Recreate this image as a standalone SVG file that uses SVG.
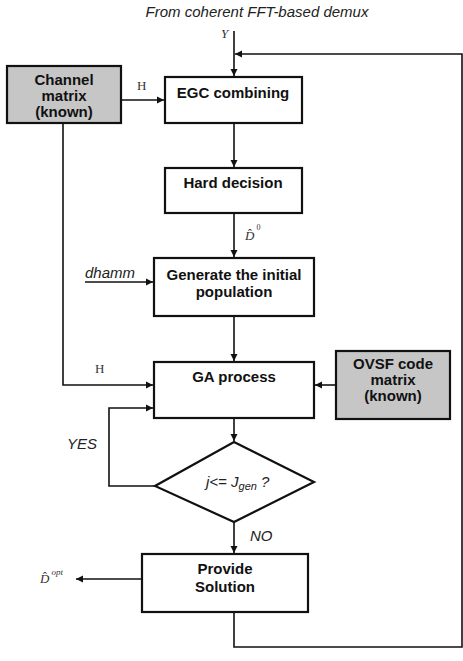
<svg xmlns="http://www.w3.org/2000/svg" width="463" height="661" viewBox="0 0 463 661">
<style>
.box{fill:#fff;stroke:#111;stroke-width:2.2}
.gray{fill:#c6c6c6;stroke:#111;stroke-width:2.2}
.t{font-family:"Liberation Sans",Arial,sans-serif;font-weight:bold;font-size:15px;fill:#111;text-anchor:middle}
.it{font-family:"Liberation Sans",Arial,sans-serif;font-style:italic;font-size:15px;fill:#222}
.m{font-family:"Liberation Serif","Times New Roman",serif;font-size:13px;fill:#333}
.c{fill:none;stroke:#111;stroke-width:1.6}
</style>
<defs>
<marker id="ah" markerWidth="8" markerHeight="8" refX="7" refY="4" orient="auto" markerUnits="userSpaceOnUse">
<path d="M0,0.5 L7,4 L0,7.5 Z" fill="#111"/>
</marker>
</defs>
<rect width="463" height="661" fill="#fff"/>
<text class="it" x="257" y="17" text-anchor="middle">From coherent FFT-based demux</text>

<g id="connectors">
<path class="c" d="M234,31 V76" marker-end="url(#ah)"/>
<path class="c" d="M234,612 V647 H462 V54 H235" marker-end="url(#ah)"/>
<path class="c" d="M234,123 V167" marker-end="url(#ah)"/>
<path class="c" d="M234,213 V257" marker-end="url(#ah)"/>
<path class="c" d="M85,282 H153" marker-end="url(#ah)"/>
<path class="c" d="M234,316 V361" marker-end="url(#ah)"/>
<path class="c" d="M121,100 H164" marker-end="url(#ah)"/>
<path class="c" d="M63,123 V385 H153" marker-end="url(#ah)"/>
<path class="c" d="M336,385 H315" marker-end="url(#ah)"/>
<path class="c" d="M234,418 V441" marker-end="url(#ah)"/>
<path class="c" d="M155,486 H109 V408 H153" marker-end="url(#ah)"/>
<path class="c" d="M234,522 V553" marker-end="url(#ah)"/>
<path class="c" d="M142,579 H76" marker-end="url(#ah)"/>
<text class="m" x="221" y="38" font-style="italic">Y</text>
<text class="m" x="137" y="90">H</text>
<text class="m" x="95" y="373">H</text>
<text class="it" x="85" y="278">dhamm</text>
<text class="it" x="67" y="449">YES</text>
<text class="it" x="250" y="541">NO</text>
<text class="m" x="245" y="240" font-size="15" font-style="italic">D&#x302;<tspan font-size="8" font-style="normal" dx="2" dy="-10">0</tspan></text>
<text class="m" x="40" y="583" font-size="15" font-style="italic">D&#x302;<tspan font-size="9" dx="2" dy="-8">opt</tspan></text>
</g>

<g id="channel">
<rect class="gray" x="7" y="66" width="114" height="57"/>
<text class="t" x="64" y="85">Channel</text>
<text class="t" x="64" y="101">matrix</text>
<text class="t" x="64" y="117">(known)</text>
</g>
<g id="egc">
<rect class="box" x="165" y="77" width="137" height="46"/>
<text class="t" x="233" y="98">EGC combining</text>
</g>
<g id="hard">
<rect class="box" x="165" y="168" width="137" height="45"/>
<text class="t" x="233" y="188">Hard decision</text>
</g>
<g id="generate">
<rect class="box" x="154" y="258" width="160" height="58"/>
<text class="t" x="234" y="280">Generate the initial</text>
<text class="t" x="234" y="297">population</text>
</g>
<g id="ga">
<rect class="box" x="154" y="362" width="160" height="56"/>
<text class="t" x="234" y="382">GA process</text>
</g>
<g id="ovsf">
<rect class="gray" x="336" y="351" width="114" height="68"/>
<text class="t" x="393" y="369">OVSF code</text>
<text class="t" x="393" y="385">matrix</text>
<text class="t" x="393" y="401">(known)</text>
</g>
<g id="decision">
<path d="M234,442 L314,482 L234,522 L155,486 Z" fill="#fff" stroke="#111" stroke-width="2.2"/>
<text class="it" x="206" y="487">j&lt;= J<tspan font-size="11" dy="3">gen</tspan><tspan dy="-3"> ?</tspan></text>
</g>
<g id="provide">
<rect class="box" x="142" y="554" width="166" height="58"/>
<text class="t" x="225" y="574">Provide</text>
<text class="t" x="225" y="592">Solution</text>
</g>
</svg>
